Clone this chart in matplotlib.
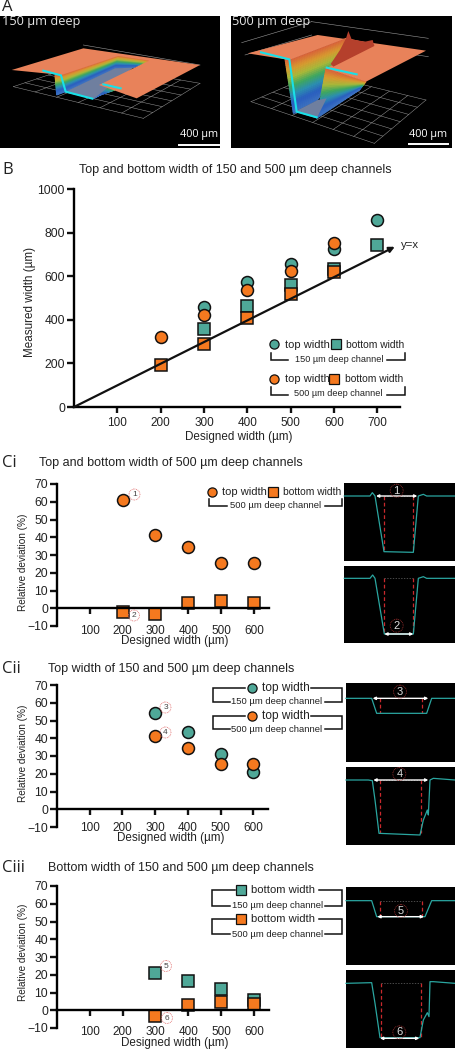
import numpy as np
import matplotlib
matplotlib.use("Agg")
import matplotlib.pyplot as plt
from matplotlib.colors import LinearSegmentedColormap
from matplotlib.patches import Circle

plt.rcParams['font.family'] = ['Liberation Sans', 'DejaVu Sans']

# panel B, measured widths
b_x_150 = [300, 400, 500, 600, 700]
b_top_150 = [460, 573, 654, 725, 859]
b_bottom_150 = [359, 462, 558, 634, 743]
b_x_500 = [200, 300, 400, 500, 600]
b_top_500 = [320, 420, 535, 622, 751]
b_bottom_500 = [194, 290, 408, 520, 618]

# panels C, relative deviation
ci_x = [200, 300, 400, 500, 600]
ci_top = [61, 41, 34.5, 25.3, 25.7]
ci_bottom = [-2, -3, 2.8, 4.2, 3.2]
c_x = [300, 400, 500, 600]
cii_top_150 = [54, 43.3, 31.3, 21]
cii_top_500 = [41, 34.5, 25.3, 25.7]
ciii_bottom_150 = [21, 16.3, 12, 6]
ciii_bottom_500 = [-3, 2.8, 4.5, 3.5]

b_xticks = [100, 200, 300, 400, 500, 600, 700]
b_yticks = [0, 200, 400, 600, 800, 1000]
c_xticks = [100, 200, 300, 400, 500, 600]
c_yticks = [-10, 0, 10, 20, 30, 40, 50, 60, 70]

TEAL = '#4fa898'
ORANGE = '#f5791f'
CYAN = '#2aa6a0'
W, H = 456, 1050

fig = plt.figure(figsize=(W / 100, H / 100), dpi=100)

# overlay in pixel coords for the photos, legends and labels
ov = fig.add_axes([0, 0, 1, 1], zorder=5)
ov.set_xlim(0, W)
ov.set_ylim(H, 0)
ov.axis('off')
ov.patch.set_alpha(0)


def z(pts, y0=0):
    return [p[0] / 3 for p in pts], [y0 + p[1] / 3 for p in pts]


def make_ax(x0, x1, ytop, ybot, xlim, ylim, xticks, yticks, pad):
    ax = fig.add_axes([x0 / W, 1 - ybot / H, (x1 - x0) / W, (ybot - ytop) / H], zorder=3)
    ax.set_xlim(*xlim)
    ax.set_ylim(*ylim)
    ax.patch.set_alpha(0)
    ax.spines['top'].set_visible(False)
    ax.spines['right'].set_visible(False)
    ax.spines['left'].set_linewidth(1.7)
    ax.spines['bottom'].set_linewidth(1.7)
    ax.spines['bottom'].set_position(('data', 0))
    ax.set_xticks(xticks)
    ax.set_yticks(yticks)
    ax.tick_params(axis='x', width=1.7, length=4, pad=pad, labelsize=8.5, color='#111111', labelcolor='#222222')
    ax.tick_params(axis='y', width=1.7, length=5, pad=1.5, labelsize=8.7, color='#111111', labelcolor='#222222')
    return ax


def pts(ax, x, y, marker, color):
    ax.plot(x, y, linestyle='none', marker=marker, ms=8.6 if marker == 'o' else 8.4,
            mfc=color, mec='#111111', mew=1.1, clip_on=False)


def labels(ax, xc, yc, ylab, ysize):
    ax.set_xlabel('Designed width (µm)', fontsize=8.4, color='#222222', va='center')
    ax.set_ylabel(ylab, fontsize=ysize, color='#222222', va='center')
    ax.xaxis.set_label_coords(xc[0], xc[1], transform=ov.transData)
    ax.yaxis.set_label_coords(yc[0], yc[1], transform=ov.transData)


def bracket(points, y0):
    x, y = z(points, y0)
    ov.plot(x, y, color='#111111', lw=1.1, solid_joinstyle='miter')


def otext(x, y, s, size, color='#222222', ha='center', family='Liberation Sans', **kw):
    ov.text(x, y, s, fontsize=size, color=color, ha=ha, va='center', family=[family, 'DejaVu Sans'], **kw)


def omark(x, y, marker, color, ms=6.6):
    ov.plot([x], [y], marker=marker, ms=ms, mfc=color, mec='#111111', mew=0.9, linestyle='none')


def num(x, y, s):
    ov.add_patch(Circle((x, y), 5.5, fc='none', ec='#e06a6a', lw=0.6, ls=(0, (1, 1))))
    otext(x, y, s, 6, color='#444444')


def rect(x0, x1, y0, y1):
    ov.fill([x0, x1, x1, x0], [y0, y0, y1, y1], color='black', lw=0, zorder=0)


def wall(top, bottom, start=0.0):
    # rainbow wall, stacked strips between two edges
    cm = LinearSegmentedColormap.from_list('h', ['#d9653a', '#d99a30', '#a8b83a', '#3fa860', '#2c8fb0', '#2a5fc0', '#3a6fc0'])
    top = np.array(top, float)
    bottom = np.array(bottom, float)
    n = 28
    for i in range(n):
        a = top + (bottom - top) * i / n
        b = top + (bottom - top) * (i + 1) / n
        p = np.vstack([a, b[::-1]])
        c = cm(start + (1 - start) * i / (n - 1))
        ov.fill(p[:, 0] / 3, p[:, 1] / 3, facecolor=c, edgecolor=c, lw=0.7, zorder=1)


def poly(points, color, zo=1):
    x, y = z(points)
    ov.fill(x, y, color=color, lw=0, zorder=zo)


def grid3d(a, b, c, d, n=7):
    # thin floor grid of the 3D views
    a, b, c, d = [np.array(p, float) for p in (a, b, c, d)]
    for i in range(n):
        t = i / (n - 1)
        for p, q in (((a + (b - a) * t), (d + (c - d) * t)), ((a + (d - a) * t), (b + (c - b) * t))):
            ov.plot([p[0] / 3, q[0] / 3], [p[1] / 3, q[1] / 3], color='#9a9a9a', lw=0.35, zorder=0.5)


def cyan_line(points):
    x, y = z(points)
    ov.plot(x, y, color='#19e0e8', lw=1.5, zorder=3)


def thin(points):
    x, y = z(points)
    ov.plot(x, y, color='#9a9a9a', lw=0.4, zorder=0.5)


# panel A -------------------------------------------------------------
rect(0, 220, 15.7, 148)
rect(231, 452, 15.7, 148)

grid3d((40, 260), (430, 355), (600, 250), (250, 190))
thin([(250, 135), (600, 195)])
wall([(165, 225), (185, 225)], [(170, 285), (197, 275)])
wall([(185, 225), (355, 168), (447, 182)], [(197, 275), (345, 205), (400, 203)])
poly([(197, 275), (345, 205), (400, 203), (280, 297)], '#6f7f9f', 1.5)
wall([(300, 255), (345, 270)], [(280, 297), (300, 285)], 0.45)
poly([(35, 210), (250, 145), (600, 195), (410, 295), (297, 255), (447, 182), (355, 168), (185, 225)], '#e8825a', 2)
cyan_line([(130, 212), (183, 226), (197, 275), (277, 296)])
cyan_line([(310, 253), (362, 265)])

grid3d((753, 305), (1123, 430), (1278, 300), (950, 220))
thin([(725, 128), (935, 65)])
thin([(735, 165), (935, 105)])
thin([(935, 65), (1285, 115)])
thin([(1150, 150), (1285, 170)])
wall([(855, 178), (868, 180)], [(880, 340), (890, 338)])
wall([(868, 180), (1038, 115), (1123, 135)], [(885, 335), (953, 300), (1000, 205)])
poly([(885, 335), (953, 300), (980, 295), (950, 355)], '#6f7f9f', 1.5)
wall([(978, 205), (1098, 245)], [(950, 355), (1078, 270)])
poly([(743, 160), (953, 105), (1278, 152), (1098, 245), (978, 205), (1123, 135), (1038, 115), (868, 180)], '#e8825a', 2)
poly([(1038, 115), (1045, 93), (1055, 118), (1095, 125), (1118, 120), (1123, 138), (1000, 200), (992, 192), (1020, 150)], '#b5402c', 2)
cyan_line([(783, 157), (868, 178), (890, 335), (950, 352)])
cyan_line([(980, 203), (1070, 223)])

otext(2, 22, '150 µm deep', 9.2, color='#e6e6e6', ha='left', family='Open Sans', zorder=4)
otext(232, 22, '500 µm deep', 9.2, color='#e6e6e6', ha='left', family='Open Sans', zorder=4)
otext(199, 135, '400 µm', 7.8, color='white', family='Open Sans', zorder=4)
otext(428, 134, '400 µm', 7.8, color='white', family='Open Sans', zorder=4)
ov.plot([179.5, 219], [144.5, 144.5], color='white', lw=1.4, zorder=4)
ov.plot([409.5, 448.5], [143.5, 143.5], color='white', lw=1.4, zorder=4)

# panel labels and titles
otext(2, 7, 'A', 12, ha='left', family='Open Sans')
otext(2, 170, 'B', 12, ha='left', family='Open Sans')
otext(2, 463, 'Ci', 12, ha='left', family='Open Sans')
otext(2, 669, 'Cii', 12, ha='left', family='Open Sans')
otext(2, 868, 'Ciii', 12, ha='left', family='Open Sans')
otext(79, 170, 'Top and bottom width of 150 and 500 µm deep channels', 9, ha='left')
otext(39, 463, 'Top and bottom width of 500 µm deep channels', 9, ha='left')
otext(48, 669, 'Top width of 150 and 500 µm deep channels', 9, ha='left')
otext(48, 868, 'Bottom width of 150 and 500 µm deep channels', 9, ha='left')

# panel B -------------------------------------------------------------
ax = make_ax(74, 400, 189, 407, (0, 752), (0, 1000), b_xticks, b_yticks, 3)
ax.annotate('', xy=(740, 735), xytext=(0, 0),
            arrowprops=dict(arrowstyle='-|>', color='#111111', lw=1.6, mutation_scale=8, shrinkA=0, shrinkB=0))
pts(ax, b_x_150, b_top_150, 'o', TEAL)
pts(ax, b_x_150, b_bottom_150, 's', TEAL)
pts(ax, b_x_500, b_top_500, 'o', ORANGE)
pts(ax, b_x_500, b_bottom_500, 's', ORANGE)
labels(ax, (239, 437), (30, 302), 'Measured width (µm)', 8.4)
otext(410, 245, 'y=x', 8.2)

omark(274, 344, 'o', TEAL)
otext(285, 345, 'top width', 8, ha='left')
omark(336, 344, 's', TEAL)
otext(346.5, 345, 'bottom width', 7.4, ha='left')
bracket([(812, 578), (812, 601), (865, 601)], 160)
bracket([(1160, 601), (1216, 601), (1216, 578)], 160)
otext(339, 360, '150 µm deep channel', 6.6)
omark(274, 379, 'o', ORANGE)
otext(285, 379.5, 'top width', 8, ha='left')
omark(334.5, 379, 's', ORANGE)
otext(345, 379.5, 'bottom width', 7.4, ha='left')
bracket([(812, 680), (812, 705), (865, 705)], 160)
bracket([(1160, 705), (1214, 705), (1214, 680)], 160)
otext(338, 394, '500 µm deep channel', 6.6)

# panel Ci ------------------------------------------------------------
ax = make_ax(57, 269, 484, 626, (0, 646), (-10, 70), c_xticks, c_yticks, 8)
pts(ax, ci_x, ci_top, 'o', ORANGE)
pts(ax, ci_x, ci_bottom, 's', ORANGE)
labels(ax, (175, 641), (23, 562), 'Relative deviation (%)', 7.2)
num(134.5, 494.5, '1')
num(134, 615.5, '2')
omark(212.5, 491.5, 'o', ORANGE)
otext(222.5, 492, 'top width', 8, ha='left')
omark(273.5, 491.5, 's', ORANGE)
otext(283, 492, 'bottom width', 7.4, ha='left')
bracket([(628, 147), (628, 168), (680, 168)], 450)
bracket([(975, 168), (1025, 168), (1025, 147)], 450)
otext(276, 505, '500 µm deep channel', 6.8)

# panel Cii -----------------------------------------------------------
ax = make_ax(57, 268, 685, 827, (0, 645), (-10, 70), c_xticks, c_yticks, 5)
pts(ax, c_x, cii_top_150, 'o', TEAL)
pts(ax, c_x, cii_top_500, 'o', ORANGE)
labels(ax, (171, 838), (23, 753), 'Relative deviation (%)', 7.2)
num(165.5, 707.5, '3')
num(165.5, 732.5, '4')
for yy, yb, col, t in [(114, 155, TEAL, '150 µm deep channel'), (199, 238, ORANGE, '500 µm deep channel')]:
    omark(252.5, 650 + yy / 3, 'o', col)
    otext(262.5, 650 + yy / 3, 'top width', 8.6, ha='left')
    bracket([(735, yy), (640, yy), (640, yb), (690, yb)], 650)
    bracket([(975, yb), (1027, yb), (1027, yy), (932, yy)], 650)
    otext(276.5, 650 + yb / 3, t, 6.8)

# panel Ciii ----------------------------------------------------------
ax = make_ax(57, 269, 886, 1028, (0, 646), (-10, 70), c_xticks, c_yticks, 7)
pts(ax, c_x, ciii_bottom_150, 's', TEAL)
pts(ax, c_x, ciii_bottom_500, 's', ORANGE)
labels(ax, (175, 1043), (23, 952), 'Relative deviation (%)', 7.2)
num(166, 966, '5')
num(167, 1018, '6')
for yy, yb, col, t in [(120, 167, TEAL, '150 µm deep channel'), (208, 253, ORANGE, '500 µm deep channel')]:
    omark(241.5, 850 + yy / 3, 's', col)
    otext(251, 850 + yy / 3, 'bottom width', 8.1, ha='left')
    bracket([(705, yy), (635, yy), (635, yb), (690, yb)], 850)
    bracket([(975, yb), (1027, yb), (1027, yy), (957, yy)], 850)
    otext(277.5, 850 + yb / 3, t, 6.8)

# cross section photos ------------------------------------------------
rect(344, 455, 483, 561)
rect(344, 455, 566, 643)
rect(346, 455, 683, 762)
rect(346, 455, 767, 845)
rect(346, 455, 887, 965)
rect(346, 455, 970, 1048)


def section(line, y0, arrow, dash_a, dash_b, dash_top, dash_bot, n, nxy):
    for dx in (dash_a, dash_b):
        ov.plot([dx / 3, dx / 3], [y0 + dash_top / 3, y0 + dash_bot / 3], color='#c8282c', lw=0.9,
                ls=(0, (3, 2)), zorder=1)
    ov.plot([dash_a / 3, dash_b / 3], [y0 + dash_top / 3] * 2, color='#666666', lw=0.5,
            ls=(0, (2, 2)), zorder=1)
    x, y = z(line, y0)
    ov.plot(x, y, color=CYAN, lw=0.9, zorder=1)
    ov.annotate('', xy=(arrow[0] / 3, y0 + arrow[2] / 3), xytext=(arrow[1] / 3, y0 + arrow[2] / 3),
                arrowprops=dict(arrowstyle='<|-|>', color='white', lw=1.0, mutation_scale=4, shrinkA=0, shrinkB=0), zorder=2)
    ov.add_patch(Circle((nxy[0] / 3, y0 + nxy[1] / 3), 6.5, fc='none', ec='#a03030', lw=0.6, ls=(0, (1, 1)), zorder=2))
    otext(nxy[0] / 3, y0 + nxy[1] / 3, n, 8, color='#dddddd', zorder=3)


section([(1033, 138), (1110, 138), (1117, 128), (1125, 138), (1152, 305), (1240, 307), (1255, 138), (1270, 133), (1280, 138), (1365, 138)],
        450, (1128, 1252, 138), 1152, 1240, 138, 305, '1', (1190, 122))
section([(1033, 385), (1110, 385), (1118, 375), (1125, 385), (1153, 552), (1240, 552), (1255, 385), (1270, 380), (1280, 385), (1365, 385)],
        450, (1153, 1240, 552), 1152, 1240, 385, 552, '2', (1190, 527))
section([(1038, 145), (1115, 145), (1130, 190), (1280, 190), (1295, 145), (1365, 145)],
        650, (1118, 1285, 145), 1140, 1265, 145, 190, '3', (1200, 125))
section([(1038, 390), (1105, 390), (1117, 392), (1125, 450), (1137, 550), (1260, 555), (1270, 510), (1282, 480), (1285, 495), (1290, 390), (1300, 385), (1365, 390)],
        650, (1120, 1285, 390), 1140, 1263, 390, 550, '4', (1198, 372))
section([(1038, 152), (1115, 152), (1130, 200), (1275, 200), (1295, 152), (1365, 152)],
        850, (1132, 1272, 200), 1140, 1265, 152, 200, '5', (1203, 183))
section([(1038, 400), (1115, 398), (1125, 460), (1140, 563), (1260, 563), (1270, 510), (1282, 488), (1287, 500), (1290, 395), (1300, 395), (1365, 400)],
        850, (1140, 1258, 565), 1143, 1263, 400, 563, '6', (1198, 547))

fig.savefig('out.png', dpi=100)
